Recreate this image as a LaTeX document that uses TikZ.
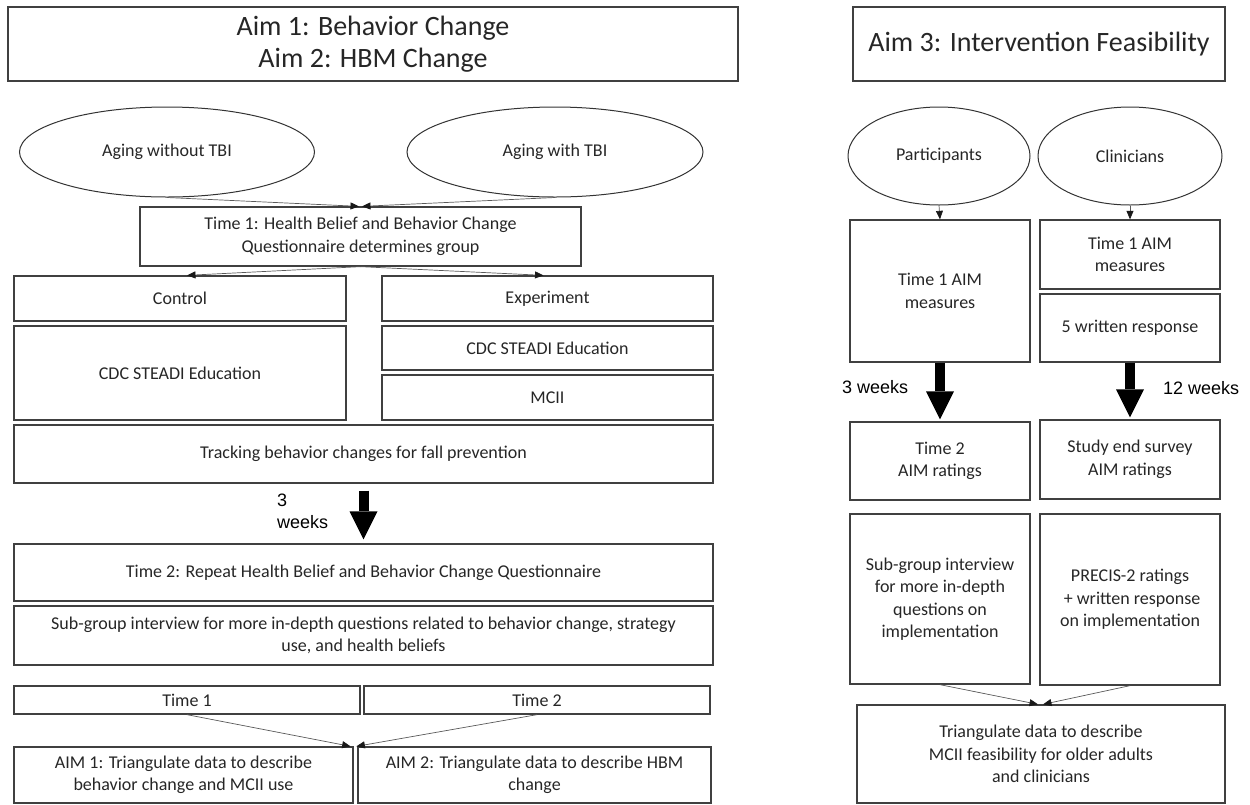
\documentclass[tikz,border=0pt]{standalone}
\usepackage{fontspec}
\setmainfont{Carlito}
\newfontfamily\arialfont{Liberation Sans}
\usetikzlibrary{shapes.geometric, arrows.meta, positioning}
\tikzset{
  box/.style={draw=black!75, line width=1.3pt, align=center, inner sep=0pt, text=black!85, font=\fontsize{18}{22.5}\selectfont},
  titlebox/.style={box, font=\fontsize{28}{32.5}\selectfont},
  oval/.style={ellipse, draw=black!80, line width=1pt, inner sep=0pt, text=black!85, font=\fontsize{18}{22}\selectfont},
  thin arrow/.style={-{Triangle[length=8.5pt,width=7pt,color=black!90]}, black!65, line width=0.7pt},
  big arrow/.style={-{Triangle[length=28pt,width=28pt,line width=0pt]}, line width=10pt},
  wk/.style={font=\arialfont\fontsize{18}{22}\selectfont, align=left, inner sep=0pt, anchor=west}
}
\begin{document}
\begin{tikzpicture}[x=1pt, y=-1pt]
    \useasboundingbox (0,0) rectangle (1250,804);
    %titoli
    \node[titlebox, minimum width=730, minimum height=74] (aimA) at (373,44) {Aim 1: Behavior Change\\Aim 2: HBM Change};
    \node[titlebox, minimum width=372, minimum height=74] (aimB) at (1039,44) {Aim 3: Intervention Feasibility};
    %gruppi
    \node[oval, minimum width=295, minimum height=90] (noTBI) at (167,152) {Aging without TBI};
    \node[oval, minimum width=296, minimum height=90] (withTBI) at (555,152) {Aging with TBI};
    \node[oval, minimum width=182, minimum height=98] (partic) at (939,156) {Participants};
    \node[oval, minimum width=184, minimum height=98] (clin) at (1130,156) {Clinicians};
    %aim 1 e 2
    \node[box, minimum width=441, minimum height=59] (timeA) at (360.5,236.5) {Time 1: Health Belief and Behavior Change\\Questionnaire determines group};
    \node[box, minimum width=332, minimum height=45] (control) at (180,298.5) {Control};
    \node[box, minimum width=332, minimum height=94] (cdcL) at (180,373) {CDC STEADI Education};
    \node[box, minimum width=331, minimum height=45] (experiment) at (547.5,298.5) {Experiment};
    \node[box, minimum width=331, minimum height=44] (cdcR) at (547.5,348) {CDC STEADI Education};
    \node[box, minimum width=331, minimum height=45] (mcii) at (547.5,397.5) {MCII};
    \node[box, minimum width=699, minimum height=58] (tracking) at (363.5,454) {Tracking behavior changes for fall prevention};
    \node[box, minimum width=699, minimum height=57] (timeB) at (363.5,572.5) {Time 2: Repeat Health Belief and Behavior Change Questionnaire};
    \node[box, minimum width=699, minimum height=59] (subL) at (363.5,635.5) {Sub-group interview for more in-depth questions related to behavior change, strategy\\use, and health beliefs};
    \node[box, minimum width=346, minimum height=28] (tOne) at (187,700) {Time 1};
    \node[box, minimum width=346, minimum height=28] (tTwo) at (537,700) {Time 2};
    \node[box, minimum width=339, minimum height=56] (aimOne) at (183.5,775) {AIM 1: Triangulate data to describe\\behavior change and MCII use};
    \node[box, minimum width=353, minimum height=56] (aimTwo) at (534.5,775) {AIM 2: Triangulate data to describe HBM\\change};
    %aim 3
    \node[box, minimum width=180, minimum height=142] (tOneP) at (940,291) {Time 1 AIM\\measures};
    \node[box, minimum width=180, minimum height=69] (tOneC) at (1130,254.5) {Time 1 AIM\\measures};
    \node[box, minimum width=180, minimum height=68] (written) at (1130,328) {5 written response};
    \node[box, minimum width=180, minimum height=78] (tTwoP) at (940,461) {Time 2\\AIM ratings};
    \node[box, minimum width=180, minimum height=79] (studyEnd) at (1130,459.5) {Study end survey\\AIM ratings};
    \node[box, minimum width=180, minimum height=170] (subP) at (940,599) {Sub-group interview\\for more in-depth\\questions on\\implementation};
    \node[box, minimum width=180, minimum height=171] (precis) at (1130,599.5) {PRECIS-2 ratings\\\ + written response\\on implementation};
    \node[box, minimum width=368, minimum height=98] (triang) at (1041,754) {Triangulate data to describe\\MCII feasibility for older adults\\and clinicians};
    %etichette settimane
    \node[wk] (wkL) at (277,511) {3\\weeks};
    \node[wk] (wkP) at (842,387) {3 weeks};
    \node[wk] (wkC) at (1163,388) {12 weeks};
    %frecce sottili
    \draw[thin arrow] (noTBI.south) -- ([xshift=-1.5pt]timeA.north);
    \draw[thin arrow] (withTBI.south) -- ([xshift=1.5pt]timeA.north);
    \draw[thin arrow] (timeA.south) -- ([xshift=7pt]control.north);
    \draw[thin arrow] (timeA.south) -- ([xshift=-4pt]experiment.north);
    \draw[thin arrow] (tOne.south) -- ([xshift=-3pt]aimOne.north east);
    \draw[thin arrow] (tTwo.south) -- ([xshift=-1pt]aimTwo.north west);
    \draw[thin arrow] (partic.south) -- (tOneP.north);
    \draw[thin arrow] (clin.south) -- (tOneC.north);
    \draw[thin arrow] (subP.south) -- ([xshift=-3pt]triang.north);
    \draw[thin arrow] (precis.south) -- ([xshift=2pt]triang.north);
    %frecce spesse
    \draw[big arrow] ([yshift=-7pt]tracking.south) -- ([yshift=4pt]timeB.north);
    \draw[big arrow] (tOneP.south) -- ([yshift=2pt]tTwoP.north);
    \draw[big arrow] (written.south) -- ([yshift=2pt]studyEnd.north);
\end{tikzpicture}
\end{document}
